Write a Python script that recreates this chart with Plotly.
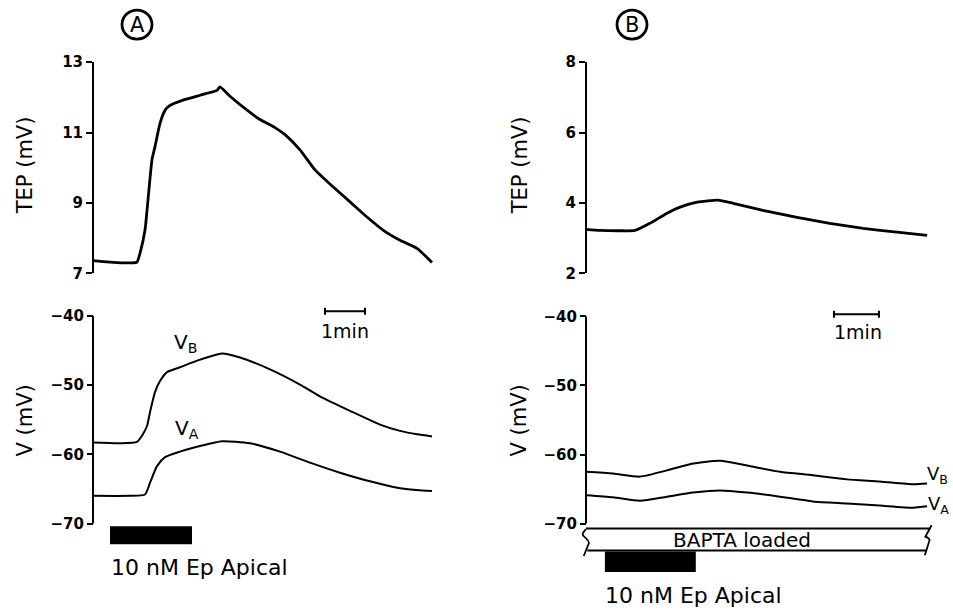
import plotly.graph_objects as go

W, H = 953, 610


def fx(px):
    return px / W


def fy(py):
    # vertical pixel target -> paper fraction (compensates the slight vertical
    # squeeze observed in the photographed page)
    yl = (py - 8.9) / 0.9696
    return 1 - yl / H


FONT = "DejaVu Sans"

# ---------------- data (time in minutes) ----------------
a_tep_t = [0, 0.5, 1.0, 1.1, 1.175, 1.3, 1.375, 1.475, 1.55, 1.675, 1.8, 1.925, 2.25,
           2.675, 3.1, 3.175, 3.425, 3.925, 4.175, 4.55, 4.8, 5.175, 5.55, 6.0, 6.425,
           6.85, 7.25, 7.675, 8.1, 8.475]
a_tep_v = [7.36, 7.31, 7.30, 7.32, 7.57, 8.23, 9.09, 10.23, 10.6, 11.26, 11.63, 11.77, 11.92,
           12.06, 12.2, 12.3, 12.03, 11.57, 11.37, 11.14, 10.94, 10.51, 9.94, 9.46, 9.03,
           8.6, 8.23, 7.94, 7.71, 7.31]

a_vb_t = [0, 0.675, 1.1, 1.225, 1.35, 1.425, 1.55, 1.675, 1.85, 2.175, 2.675, 3.225,
          3.675, 4.425, 5.175, 5.675, 6.425, 7.175, 7.675, 8.1, 8.475]
a_vb_v = [-58.3, -58.4, -58.2, -57.3, -55.9, -53.9, -51.0, -49.4, -48.1, -47.4, -46.3, -45.4,
          -46.0, -47.7, -49.9, -51.6, -53.7, -55.7, -56.6, -57.1, -57.4]

a_va_t = [0, 0.925, 1.3, 1.425, 1.6, 1.8, 2.175, 2.675, 3.225, 3.925, 4.675, 5.425,
          6.175, 6.925, 7.675, 8.1, 8.475]
a_va_v = [-66.0, -66.0, -65.8, -64.1, -61.7, -60.4, -59.6, -58.8, -58.1, -58.4, -59.6, -61.2,
          -62.65, -63.9, -64.9, -65.15, -65.3]

b_tep_t = [0, 0.31, 0.76, 1.09, 1.42, 1.8, 2.09, 2.47, 2.93, 3.27, 3.93, 4.69, 5.42,
           6.16, 6.91, 7.58]
b_tep_v = [3.25, 3.22, 3.21, 3.22, 3.42, 3.71, 3.88, 4.02, 4.08, 3.99, 3.79, 3.59, 3.42,
           3.28, 3.17, 3.08]

b_v_t = [0, 0.6, 1.2, 1.8, 2.38, 2.98, 3.58, 4.31, 5.04, 5.8, 6.53, 7.27, 7.58]
b_vb_v = [-62.5, -62.75, -63.2, -62.3, -61.3, -60.9, -61.6, -62.5, -63.0, -63.6, -63.9, -64.3, -64.2]
b_va_v = [-65.9, -66.2, -66.7, -66.1, -65.5, -65.2, -65.5, -66.1, -66.8, -67.1, -67.4, -67.7, -67.5]

# drug application periods (min) and scale bars (min)
a_drug = [0.425, 2.475]
b_drug = [0.42, 2.44]
a_scale = [5.8, 6.8]
b_scale = [5.51, 6.51]
b_bapta = [0.0, 7.6]

tep_a_ticks = [7, 9, 11, 13]
tep_b_ticks = [2, 4, 6, 8]
v_ticks = [-70, -60, -50, -40]
v_ticktext = ["\u221270", "\u221260", "\u221250", "\u221240"]

# ---------------- figure ----------------
fig = go.Figure()
tep_line = dict(color="black", width=2.8, shape="spline", smoothing=0.5)
v_line = dict(color="black", width=2.0, shape="spline", smoothing=0.6)

fig.add_trace(go.Scatter(x=a_tep_t, y=a_tep_v, xaxis="x", yaxis="y", mode="lines", line=tep_line))
fig.add_trace(go.Scatter(x=a_vb_t, y=a_vb_v, xaxis="x2", yaxis="y2", mode="lines", line=v_line))
fig.add_trace(go.Scatter(x=a_va_t, y=a_va_v, xaxis="x2", yaxis="y2", mode="lines", line=v_line))
fig.add_trace(go.Scatter(x=b_tep_t, y=b_tep_v, xaxis="x3", yaxis="y3", mode="lines", line=tep_line))
fig.add_trace(go.Scatter(x=b_v_t, y=b_vb_v, xaxis="x4", yaxis="y4", mode="lines", line=v_line))
fig.add_trace(go.Scatter(x=b_v_t, y=b_va_v, xaxis="x4", yaxis="y4", mode="lines", line=v_line))

tickfont = dict(family=FONT, size=15, color="black")


def yax(domain, rng, pos, tickvals, ticktext, showline):
    return dict(domain=domain, range=rng, anchor="free", position=pos,
                showline=showline, linecolor="black", linewidth=2,
                ticks="outside", ticklen=6, tickwidth=2, tickcolor="black",
                tickvals=tickvals, ticktext=["<b>%s</b>" % t for t in ticktext],
                tickfont=tickfont,
                showgrid=False, zeroline=False, fixedrange=True)


def xax(domain, rng):
    return dict(domain=domain, range=rng, visible=False, showgrid=False,
                zeroline=False, fixedrange=True)


xa_dom = [fx(85), fx(437)]
xb_dom = [fx(577), fx(934.75)]

fig.update_layout(
    width=W, height=H,
    margin=dict(l=0, r=0, t=0, b=0),
    paper_bgcolor="white", plot_bgcolor="white",
    showlegend=False,
    xaxis=xax(xa_dom, [-0.2, 8.6]),
    xaxis2=xax(xa_dom, [-0.2, 8.6]),
    xaxis3=xax(xb_dom, [-0.2, 7.75]),
    xaxis4=xax(xb_dom, [-0.2, 7.75]),
    yaxis=yax([fy(273), fy(62)], [7, 13], fx(93), tep_a_ticks, [str(v) for v in tep_a_ticks], True),
    yaxis2=yax([fy(550.6), fy(305.3)], [-74, -38.5], fx(93), v_ticks, v_ticktext, False),
    yaxis3=yax([fy(273), fy(62)], [2, 8], fx(586), tep_b_ticks, [str(v) for v in tep_b_ticks], True),
    yaxis4=yax([fy(578.2), fy(305.65)], [-78, -38.5], fx(586), v_ticks, v_ticktext, False),
)

shapes = []
blk = dict(color="black", width=2)
# y-axis lines for the voltage panels
for xr, yr in (("x2", "y2"), ("x4", "y4")):
    shapes.append(dict(type="line", xref=xr, yref=yr, x0=0, x1=0, y0=-70, y1=-40, line=blk))
# drug bars
shapes.append(dict(type="rect", xref="x2", yref="y2", x0=a_drug[0], x1=a_drug[1],
                   y0=-73.0, y1=-70.4, fillcolor="black", line=dict(width=0)))
shapes.append(dict(type="rect", xref="x4", yref="y4", x0=b_drug[0], x1=b_drug[1],
                   y0=-77.0, y1=-74.06, fillcolor="black", line=dict(width=0)))
# 1 min scale bars
for xr, yr, sc, yy in (("x2", "y2", a_scale, -39.3), ("x4", "y4", b_scale, -39.7)):
    shapes.append(dict(type="line", xref=xr, yref=yr, x0=sc[0], x1=sc[1], y0=yy, y1=yy, line=blk))
    for xe in sc:
        shapes.append(dict(type="line", xref=xr, yref=yr, x0=xe, x1=xe, y0=yy + 0.5, y1=yy - 0.5, line=blk))
# BAPTA band
shapes.append(dict(type="line", xref="x4", yref="y4", x0=b_bapta[0], x1=b_bapta[1] + 0.05,
                   y0=-70.7, y1=-70.7, line=blk))
shapes.append(dict(type="line", xref="x4", yref="y4", x0=b_bapta[0] + 0.03, x1=b_bapta[1] - 0.04,
                   y0=-73.9, y1=-73.9, line=blk))
shapes.append(dict(type="path", xref="x4", yref="y4",
                   path="M 0.0,-70.8 Q -0.09,-71.4 -0.07,-71.7 Q 0.09,-72.6 0.06,-72.9 L -0.05,-74.7",
                   line=dict(color="black", width=1.8)))
shapes.append(dict(type="path", xref="x4", yref="y4",
                   path="M 7.68,-70.25 L 7.54,-71.9 Q 7.66,-72.2 7.63,-72.5 L 7.53,-74.6",
                   line=dict(color="black", width=1.8)))
# circled panel letters
for cx in (137, 632):
    shapes.append(dict(type="circle", xref="paper", yref="paper",
                       x0=fx(cx - 15), x1=fx(cx + 15), y0=fy(39), y1=fy(10),
                       line=dict(color="black", width=2.8)))

annotations = []


def ann(text, x, y, xref="paper", yref="paper", size=20, xanchor="center", yanchor="middle", angle=0):
    annotations.append(dict(text=text, x=x, y=y, xref=xref, yref=yref, showarrow=False,
                            xanchor=xanchor, yanchor=yanchor, textangle=angle,
                            font=dict(family=FONT, size=size, color="black")))


ann("A", fx(137), fy(25), size=21)
ann("B", fx(632), fy(25), size=21)
ann("TEP (mV)", fx(25), fy(165), size=21, angle=-90)
ann("V (mV)", fx(25), fy(420), size=21, angle=-90)
ann("TEP (mV)", fx(520), fy(165), size=21, angle=-90)
ann("V (mV)", fx(519), fy(420), size=21, angle=-90)
ann("1min", (a_scale[0] + a_scale[1]) / 2, -42.2, "x2", "y2", size=19)
ann("1min", (b_scale[0] + b_scale[1]) / 2 + 0.03, -42.3, "x4", "y4", size=19)
ann("10 nM Ep Apical", a_drug[0] - 0.02, fy(566.5), "x2", "paper", size=22, xanchor="left")
ann("10 nM Ep Apical", b_drug[0] - 0.05, fy(595), "x4", "paper", size=22, xanchor="left")
ann("BAPTA loaded", 3.47, -72.4, "x4", "y4", size=20)
ann("V<sub>B</sub>", 1.975, -43.9, "x2", "y2", size=20, xanchor="left")
ann("V<sub>A</sub>", 2.0, -56.4, "x2", "y2", size=20, xanchor="left")
ann("V<sub>B</sub>", 7.54, -62.9, "x4", "y4", size=18, xanchor="left")
ann("V<sub>A</sub>", 7.56, -67.3, "x4", "y4", size=18, xanchor="left")

fig.update_layout(shapes=shapes, annotations=annotations)

fig.write_html("out.html", config={"displayModeBar": False},
               post_script="document.body.style.margin='0';document.body.style.overflow='hidden';")
